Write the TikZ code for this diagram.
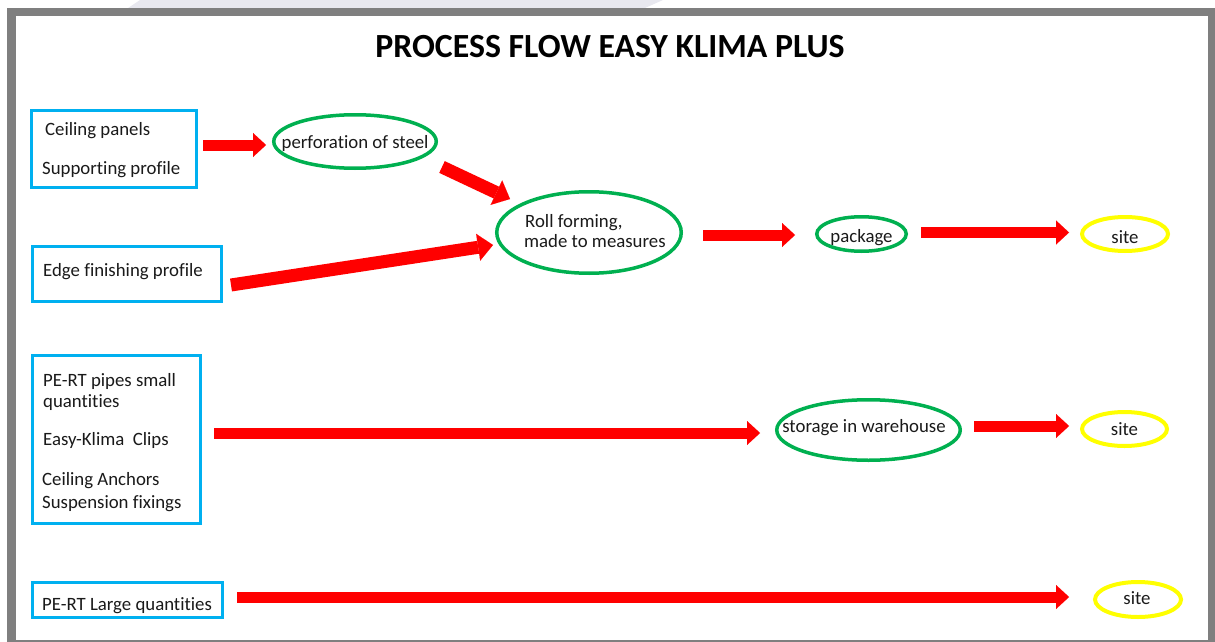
\documentclass[tikz,border=0pt]{standalone}
\usepackage{fontspec}
\setmainfont{Carlito}[Ligatures=NoCommon]
\usetikzlibrary{arrows.meta,shapes.geometric}
\definecolor{cblue}{HTML}{00B0F0}
\definecolor{cgreen}{HTML}{00B050}
\definecolor{cyel}{HTML}{FFFF00}
\definecolor{cred}{HTML}{FF0000}
\definecolor{cframe}{HTML}{7F7F7F}
\definecolor{cshade}{HTML}{E8E8EF}
\definecolor{ctext}{HTML}{1A1A1A}
\begin{document}
\begin{tikzpicture}[x=1pt,y=-1pt,
  box/.style={draw=cblue,line width=3pt,rectangle,inner sep=0pt},
  ell/.style={draw=cgreen,line width=3.5pt,ellipse,inner sep=0pt},
  siteell/.style={draw=cyel,line width=4pt,ellipse,inner sep=0pt},
  txt/.style={font=\fontsize{18.8}{22}\selectfont,text=ctext,inner sep=0pt,anchor=base west},
  ctxt/.style={font=\fontsize{18.8}{22}\selectfont,text=ctext,inner sep=0pt,anchor=base},
  arr/.style={draw=cred,line width=11pt,-{Triangle[width=24pt,length=13pt,line width=0.01pt]}},
  darr/.style={draw=cred,line width=13pt,-{Triangle[width=27pt,length=15pt,line width=0.01pt]}},
]
\useasboundingbox (0,0) rectangle (1215,642);
% background and frame
\fill[cshade] (140,0) -- (663,0) -- (645,8) -- (128,8) -- cycle;
\fill[cframe] (7,8) rectangle (1215,641.5);
\fill[white] (16,16.5) rectangle (1208,639.5);

% title
\node[font=\fontsize{33.8}{40}\selectfont\bfseries,text=black,inner sep=0pt,anchor=base] (title) at (610,58) {PROCESS FLOW EASY KLIMA PLUS};

% boxes
\node[box,minimum width=165pt,minimum height=77pt] (b1) at (114,149) {};
\node[box,minimum width=189pt,minimum height=55pt] (b2) at (127,274) {};
\node[box,minimum width=168pt,minimum height=168pt] (b3) at (116.5,439.5) {};
\node[box,minimum width=190pt,minimum height=35pt] (b4) at (127.5,600) {};

\node[txt] (t1a) at (45,135) {Ceiling panels};
\node[txt] (t1b) at (42,174) {Supporting profile};
\node[txt] (t2) at (43,276) {Edge finishing profile};
\node[txt] (t3a) at (43,386) {PE-RT pipes small};
\node[txt] (t3b) at (43,407) {quantities};
\node[txt] (t3c) at (43,445) {Easy-Klima\ \ Clips};
\node[txt] (t3d) at (42,485) {Ceiling Anchors};
\node[txt] (t3e) at (42,508) {Suspension fixings};
\node[txt] (t4) at (42,610) {PE-RT Large quantities};

% ellipses
\node[ell,minimum width=162.5pt,minimum height=53.5pt] (e1) at (355,141.5) {};
\node[ell,minimum width=184.5pt,minimum height=81.5pt] (e2) at (589,232.5) {};
\node[ell,minimum width=89.5pt,minimum height=34.5pt] (e3) at (861.5,234) {};
\node[ell,minimum width=183.5pt,minimum height=60.5pt] (e4) at (868.5,430) {};
\node[siteell,minimum width=86pt,minimum height=34pt] (s1) at (1125,234) {};
\node[siteell,minimum width=85pt,minimum height=34pt] (s2) at (1124.5,429) {};
\node[siteell,minimum width=86pt,minimum height=35pt] (s3) at (1138,599.5) {};

\node[txt] (te1) at (281.5,148) {perforation of steel};
\node[txt] (te2a) at (525,227) {Roll forming,};
\node[txt] (te2b) at (524,247) {made to measures};
\node[ctxt] (te3) at (861.5,242) {package};
\node[ctxt] (te4) at (864,432) {storage in warehouse};
\node[ctxt] (ts1) at (1125,243) {site};
\node[ctxt] (ts2) at (1124.5,435) {site};
\node[ctxt] (ts3) at (1137,604) {site};

% arrows
\draw[arr] ([shift={(89,-4)}]b1.center) -- ([shift={(-89,3.5)}]e1.center);
\draw[darr] ([shift={(87,25.5)}]e1.center) -- ([shift={(-79,-33.5)}]e2.center);
\draw[darr] ([shift={(104,11)}]b2.center) -- ([shift={(-96,12.5)}]e2.center);
\draw[arr] ([shift={(114,2.5)}]e2.center) -- ([shift={(-66.5,1)}]e3.center);
\draw[arr] ([shift={(59.5,-1.5)}]e3.center) -- ([shift={(-56,-1.5)}]s1.center);
\draw[arr] ([shift={(97.5,-6.5)}]b3.center) -- ([shift={(-108.5,3)}]e4.center);
\draw[arr] ([shift={(105.5,-4)}]e4.center) -- ([shift={(-55.5,-3)}]s2.center);
\draw[arr] ([shift={(109.5,-3)}]b4.center) -- ([shift={(-69,-2.5)}]s3.center);
\end{tikzpicture}
\end{document}
